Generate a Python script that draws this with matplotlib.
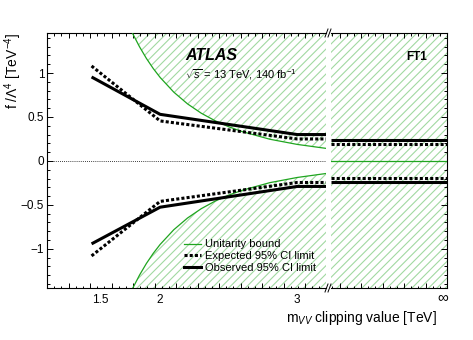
import matplotlib
matplotlib.use("Agg")
import matplotlib.pyplot as plt
import numpy as np
from matplotlib.lines import Line2D
from matplotlib.ticker import FixedLocator, MultipleLocator, NullFormatter

plt.rcParams['font.family'] = ['Liberation Sans', 'DejaVu Sans']
plt.rcParams['mathtext.fontset'] = 'custom'
plt.rcParams['mathtext.rm'] = 'Liberation Sans'
plt.rcParams['mathtext.it'] = 'Liberation Sans:italic'
plt.rcParams['mathtext.bf'] = 'Liberation Sans:bold'
plt.rcParams['hatch.linewidth'] = 0.8

# clipping values [TeV] and FT1 limits
clip_tev = [1.5, 2.0, 3.0]
obs_up = [0.955, 0.53, 0.30]
obs_dn = [-0.943, -0.526, -0.29]
exp_up = [1.08, 0.455, 0.25]
exp_dn = [-1.08, -0.46, -0.245]

# no clipping (m_VV -> infinity)
obs_inf = [0.24, -0.24]
exp_inf = [0.195, -0.197]
bound_inf = 0.0

# unitarity bound (green curve)
bound_m = [1.80, 1.85, 1.90, 1.95, 2.0, 2.1, 2.2, 2.3, 2.4, 2.5, 2.6, 2.8, 3.0, 3.21]
bound_f = [1.448, 1.298, 1.166, 1.051, 0.950, 0.782, 0.649, 0.543, 0.458,
           0.389, 0.333, 0.247, 0.188, 0.143]

xtick_vals = [1.5, 2.0, 3.0]
xtick_txt = ['1.5', '2', '3']

XMIN, XMAX = 1.175, 3.21
YMIN, YMAX = -1.445, 1.455
GREEN = '#1fa51f'
HATCH = '#a2d9a2'

W, H = 473, 340
fig = plt.figure(figsize=(W / 100, H / 100), dpi=100)
ax1 = fig.add_axes([47 / W, 52 / H, 279 / W, 255 / H])
ax2 = fig.add_axes([331 / W, 52 / H, 116 / W, 255 / H])

lw_lim = 2.2
dots = (0, (1.0, 0.7))

# ---- left panel: finite clipping values
ax1.fill_between(bound_m, bound_f, YMAX + 1, facecolor='none', edgecolor=HATCH,
                 hatch='////', linewidth=0, zorder=1)
ax1.fill_between(bound_m, -np.array(bound_f), YMIN - 1, facecolor='none',
                 edgecolor=HATCH, hatch='////', linewidth=0, zorder=1)
ax1.axhline(0, color='black', lw=0.6, ls=(0, (1, 1.5)), zorder=2)
ax1.plot(bound_m, bound_f, color=GREEN, lw=0.9, zorder=3)
ax1.plot(bound_m, -np.array(bound_f), color=GREEN, lw=0.9, zorder=3)

ext_x = clip_tev + [XMAX]
for vals in (exp_up, exp_dn):
    ax1.plot(ext_x, vals + [vals[-1]], color='black', lw=lw_lim, ls=dots, zorder=4)
for vals in (obs_up, obs_dn):
    ax1.plot(ext_x, vals + [vals[-1]], color='black', lw=lw_lim,
             solid_capstyle='butt', zorder=5)

ax1.set_xlim(XMIN, XMAX)
ax1.set_ylim(YMIN, YMAX)

# ---- right panel: no clipping
ax2.axhspan(YMIN - 1, YMAX + 1, facecolor='none', edgecolor=HATCH, hatch='////',
            linewidth=0, zorder=1)
ax2.axhline(bound_inf, color=GREEN, lw=0.9, zorder=3)
for v in exp_inf:
    ax2.axhline(v, color='black', lw=lw_lim, ls=dots, zorder=4)
for v in obs_inf:
    ax2.axhline(v, color='black', lw=lw_lim, solid_capstyle='butt', zorder=5)
ax2.set_xlim(0, 1)
ax2.set_ylim(YMIN, YMAX)

# ---- ROOT-like axes
step1 = 21.5 / 279 * (XMAX - XMIN)
ax1.xaxis.set_major_locator(FixedLocator(np.arange(XMIN, XMAX + 1e-6, step1)))
ax1.xaxis.set_minor_locator(FixedLocator(np.arange(XMIN, XMAX + 1e-6, step1 / 3)))
step2 = 21.5 / 116
ax2.xaxis.set_major_locator(FixedLocator(1 - np.arange(0, 1.0001, step2)))
ax2.xaxis.set_minor_locator(FixedLocator(1 - np.arange(0, 1.0001, step2 / 3)))

for ax in (ax1, ax2):
    ax.yaxis.set_major_locator(MultipleLocator(0.5))
    ax.yaxis.set_minor_locator(MultipleLocator(0.1))
    ax.xaxis.set_major_formatter(NullFormatter())
    ax.xaxis.set_minor_formatter(NullFormatter())
    ax.tick_params(which='both', direction='in', top=True, width=0.7, labelsize=8.5)
    ax.tick_params(axis='x', which='major', length=3.5)
    ax.tick_params(axis='x', which='minor', length=1.8)
    ax.tick_params(axis='y', which='major', length=4.5, pad=2)
    ax.tick_params(axis='y', which='minor', length=2.3)
    for sp in ax.spines.values():
        sp.set_linewidth(0.8)

ax1.spines['right'].set_visible(False)
ax1.tick_params(which='both', right=False)
ax2.spines['left'].set_visible(False)
ax2.tick_params(which='both', left=False, right=True, labelleft=False)

ax1.set_yticks([-1, -0.5, 0, 0.5, 1])
ax1.set_yticklabels(['\u22121', '\u22120.5', '0', '0.5', '1'])

xt1 = ax1.get_xaxis_transform()
for i, (v, t) in enumerate(zip(xtick_vals, xtick_txt)):
    ax1.text(v, -0.022, t, transform=xt1, ha='left' if i == 0 else 'center',
             va='top', fontsize=8.5)
ax2.text(0.966, -0.034, '\u221e', transform=ax2.transAxes, ha='center',
         va='center', fontsize=11)

# axis break marks
for yb in (33, 288):
    for xb in (325.0, 328.0):
        fig.add_artist(Line2D([xb / W, (xb + 3) / W], [1 - (yb + 4) / H, 1 - (yb - 4) / H],
                              color='black', lw=0.7, transform=fig.transFigure))

fig.text(13 / W, 1 - 33 / H, 'f /\u039b$^{4}$ [TeV$^{-4}$]', rotation=90,
         ha='center', va='top', fontsize=10)
fig.text(437 / W, 1 - 318 / H, 'm$_{VV}$ clipping value [TeV]', ha='right',
         va='center', fontsize=10)

fig.text(185 / W, 1 - 56 / H, 'ATLAS', fontsize=11.5, fontweight='bold',
         fontstyle='italic', va='center', ha='left')
fig.text(185 / W, 1 - 75 / H, '$\\sqrt{s}$ = 13 TeV, 140 fb$^{-1}$',
         fontsize=8, va='center', ha='left')
fig.text(417 / W, 1 - 57 / H, 'FT1', fontsize=8.5, fontweight='bold',
         va='center', ha='center')

handles = [Line2D([], [], color=GREEN, lw=0.9),
           Line2D([], [], color='black', lw=lw_lim, ls=dots),
           Line2D([], [], color='black', lw=lw_lim)]
labels = ['Unitarity bound', 'Expected 95% CI limit', 'Observed 95% CI limit']
ax1.legend(handles, labels, loc='center left', bbox_to_anchor=(0.49, 0.125),
           frameon=False, fontsize=8, handlelength=1.6, handletextpad=0.3,
           labelspacing=0.15, borderaxespad=0, borderpad=0)

fig.savefig('out.png', dpi=100)
